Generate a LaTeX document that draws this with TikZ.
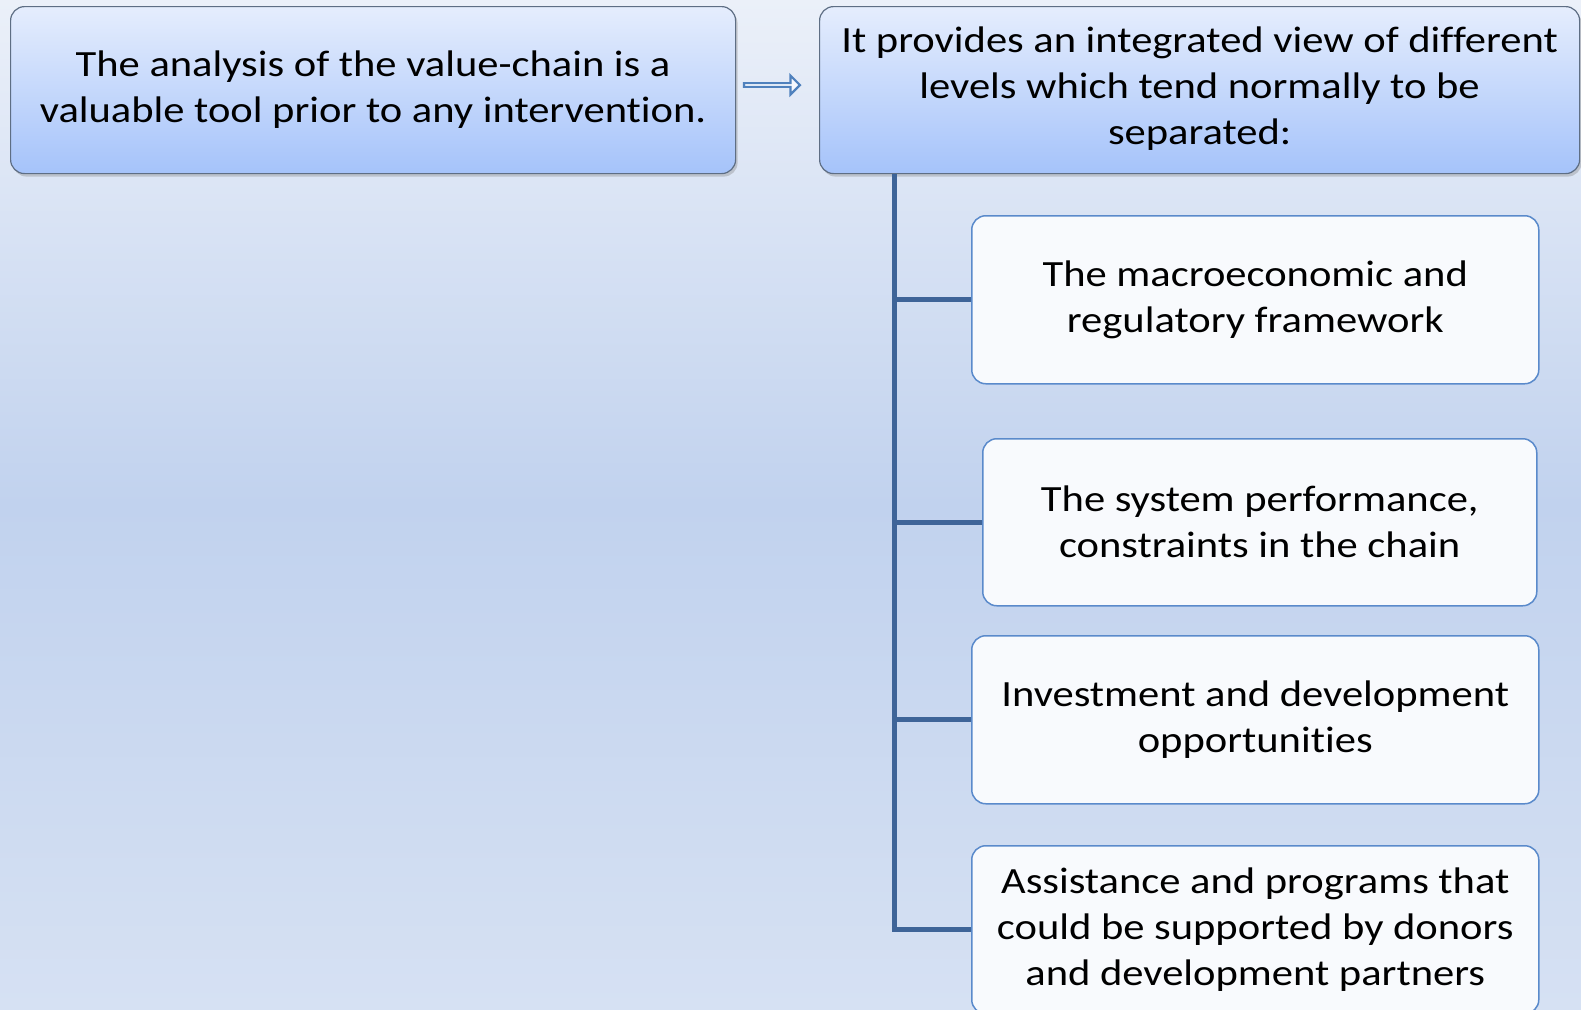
\documentclass[tikz,border=0pt]{standalone}
\usepackage{fontspec}
\setmainfont{Carlito}[FakeStretch=1.15,Ligatures=NoCommon]
\usetikzlibrary{shapes.arrows,shadows}
\definecolor{bgtop}{HTML}{EBF0F9}
\definecolor{bgmid}{HTML}{C1D2EE}
\definecolor{bgbot}{HTML}{D6E1F3}
\definecolor{hdtop}{HTML}{E5EDFD}
\definecolor{hdbot}{HTML}{A5C3FA}
\definecolor{hdline}{HTML}{5E6E84}
\definecolor{chfill}{HTML}{F8FAFD}
\definecolor{chline}{HTML}{5A8ACB}
\definecolor{conncol}{HTML}{3E6498}
\definecolor{arrline}{HTML}{4F81BD}
\tikzset{
  hdbox/.style={draw=hdline, line width=1.2pt, rounded corners=14pt, top color=hdtop, bottom color=hdbot,
    anchor=north west, align=center, inner sep=0pt, font=\fontsize{37}{46}\selectfont,
    drop shadow={shadow xshift=2pt, shadow yshift=-3pt, opacity=0.35}},
  chbox/.style={draw=chline, line width=1.5pt, rounded corners=14pt, fill=chfill,
    anchor=north west, align=center, inner sep=0pt, font=\fontsize{37}{46}\selectfont},
  conn/.style={draw=conncol, line width=5pt},
}
\begin{document}
\begin{tikzpicture}[x=1pt,y=-1pt]
\shade[top color=bgtop, bottom color=bgbot, middle color=bgmid] (0,0) rectangle (1581,1009);
\useasboundingbox (0,0) rectangle (1581,1009);
\node[hdbox, minimum width=725pt, minimum height=167pt] (left) at (10,6)
  {The analysis of the value-chain is a\\valuable tool prior to any intervention.};
\node[hdbox, minimum width=760pt, minimum height=167pt, text depth=8pt] (right) at (819,6)
  {It provides an integrated view of different\\levels which tend normally to be\\separated:};
\node[single arrow, draw=arrline, fill=white!60!hdtop, line width=2.2pt, minimum height=56pt,
  minimum width=19pt, single arrow head extend=4.5pt, inner sep=0pt, single arrow tip angle=90] (arr) at (771,85) {};
\node[chbox, minimum width=567pt, minimum height=168pt] (c1) at (971,215)
  {The macroeconomic and\\regulatory framework};
\node[chbox, minimum width=554pt, minimum height=167pt] (c2) at (982,438)
  {The system performance,\\constraints in the chain};
\node[chbox, minimum width=567pt, minimum height=168pt] (c3) at (971,635)
  {Investment and development\\opportunities};
\node[chbox, minimum width=567pt, minimum height=168pt] (c4) at (971,845)
  {Assistance and programs that\\could be supported by donors\\and development partners};
\coordinate (trunk) at ([xshift=75pt]right.south west);
\draw[conn] (trunk) |- (c4.west);
\draw[conn] (c1.west) -- (c1.west -| trunk);
\draw[conn] (c2.west) -- (c2.west -| trunk);
\draw[conn] (c3.west) -- (c3.west -| trunk);
\end{tikzpicture}
\end{document}
